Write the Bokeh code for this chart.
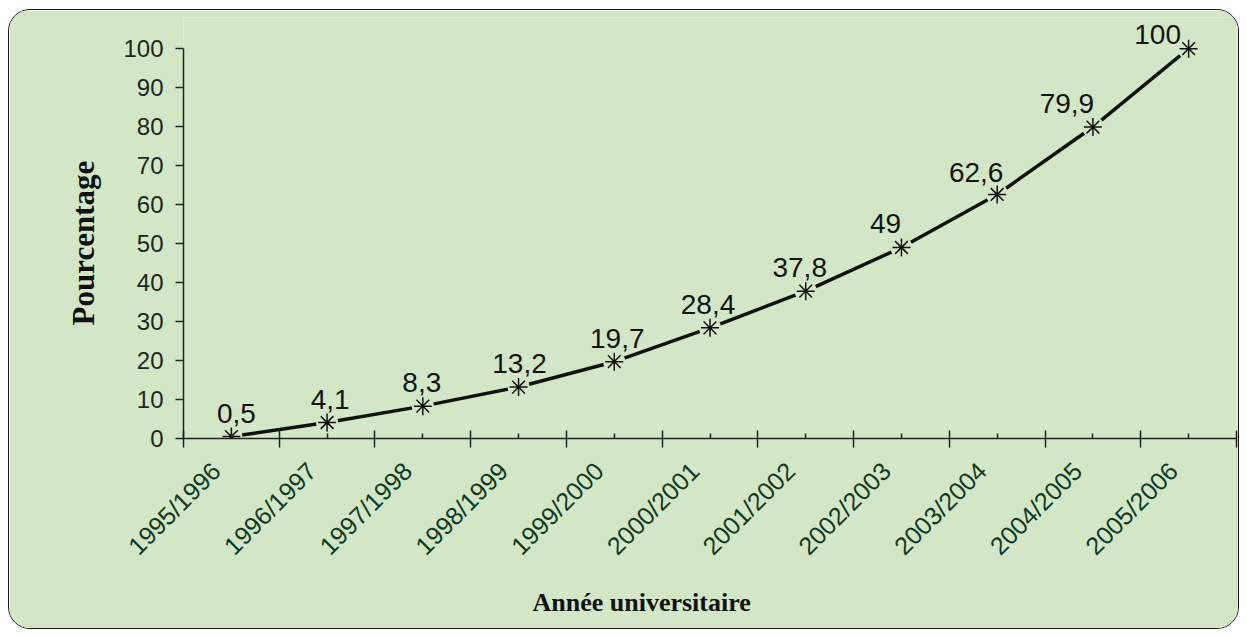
import math
from bokeh.plotting import figure
from bokeh.models import FixedTicker, ColumnDataSource, LinearAxis, Title
from bokeh.core.properties import value
from bokeh.embed import file_html
from bokeh.resources import INLINE

# ---- data ----
years = ["1995/1996", "1996/1997", "1997/1998", "1998/1999", "1999/2000",
         "2000/2001", "2001/2002", "2002/2003", "2003/2004", "2004/2005", "2005/2006"]
percent = [0.5, 4.1, 8.3, 13.2, 19.7, 28.4, 37.8, 49, 62.6, 79.9, 100]
y_ticks = [0, 10, 20, 30, 40, 50, 60, 70, 80, 90, 100]

BG = "#d3e7c6"
idx = list(range(len(years)))
labels = [("%g" % v).replace(".", ",") for v in percent]

# label placement (screen px), styling only
label_dx = [5, 3, -1, 1, 3, -2, -6, -16, -21, -26, -31]
label_dy = [-14, -14, -14, -14, -14, -14, -14, -14, -12, -14, -5]

src = ColumnDataSource(dict(x=idx, y=percent, t=labels, dx=label_dx, dy=label_dy))

p = figure(width=1231, height=620, output_backend="svg", toolbar_location=None,
           x_range=(-0.5, len(years) - 0.5), y_range=(0, 108),
           min_border_left=174, min_border_right=4, min_border_top=7, min_border_bottom=192)
p.styles = {"border": "1px solid #1a1a1a", "border-radius": "22px", "overflow": "hidden",
            "margin-left": "8px", "margin-top": "9px"}
p.background_fill_color = BG
p.border_fill_color = BG
p.outline_line_color = None
p.grid.visible = False

# y axis
p.yaxis.ticker = FixedTicker(ticks=y_ticks)
p.yaxis.bounds = (0, 100)
p.yaxis.major_tick_in = 0
p.yaxis.major_tick_out = 8
p.yaxis.minor_tick_line_color = None
p.yaxis.axis_line_color = "#222222"
p.yaxis.axis_line_width = 1.5
p.yaxis.major_tick_line_color = "#222222"
p.yaxis.major_tick_line_width = 1.5
p.yaxis.major_label_text_font = "Liberation Sans"
p.yaxis.major_label_text_font_size = "24px"
p.yaxis.major_label_text_color = "#1c2620"
p.yaxis.major_label_standoff = 12

# x axis: small ticks at category centres, long ticks at boundaries (no labels)
bounds = [i - 0.5 for i in range(len(years) + 1)]
p.xaxis.ticker = FixedTicker(ticks=idx, minor_ticks=bounds)
p.xaxis.major_label_overrides = {i: "" for i in idx}
p.xaxis.major_tick_in = 5
p.xaxis.major_tick_out = 0
p.xaxis.minor_tick_in = 8
p.xaxis.minor_tick_out = 9
p.xaxis.axis_line_color = "#222222"
p.xaxis.axis_line_width = 1.5
p.xaxis.major_tick_line_color = "#222222"
p.xaxis.major_tick_line_width = 1.5
p.xaxis.minor_tick_line_color = "#222222"
p.xaxis.minor_tick_line_width = 1.5
p.xaxis.major_label_standoff = 0

# second (label-only) axis for the rotated category names
shift = 0.16
label_pos = [round(i - shift, 3) for i in idx]
lab_axis = LinearAxis(ticker=FixedTicker(ticks=label_pos, minor_ticks=[]),
                      major_label_overrides={lp: y for lp, y in zip(label_pos, years)},
                      axis_line_color=None, major_tick_line_color=None,
                      minor_tick_line_color=None,
                      major_label_orientation=math.pi / 4,
                      major_label_standoff=13,
                      major_label_text_font="Liberation Sans",
                      major_label_text_font_size="25px",
                      major_label_text_color="#0f3a24")
p.add_layout(lab_axis, "below")

# axis titles
p.add_layout(Title(text="Année universitaire", align="left", offset=349, standoff=27,
                   text_font="Liberation Serif", text_font_style="bold",
                   text_font_size="26px", text_color="#111111"), "below")
p.add_layout(Title(text="Pourcentage", align="left", offset=113, standoff=39,
                   text_font="Liberation Serif", text_font_style="bold",
                   text_font_size="31px", text_color="#111111"), "left")

# series
p.line("x", "y", source=src, line_color="#111111", line_width=3.5)
p.scatter("x", "y", source=src, marker="circle", size=22, fill_color=BG, line_color=None)
p.scatter("x", "y", source=src, marker="asterisk", size=18, line_color="#111111", line_width=1.5)
p.text("x", "y", text="t", source=src, x_offset="dx", y_offset="dy",
       text_align="center", text_baseline="bottom",
       text_font=value("Liberation Sans"), text_font_size="28px", text_color="#141414")

open("out.html", "w").write(file_html(p, INLINE))
